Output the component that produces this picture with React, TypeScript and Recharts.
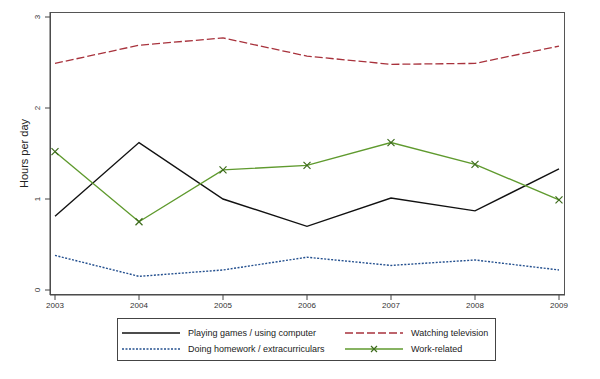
import { LineChart, Line, XAxis, YAxis } from 'recharts';

const years = [2003, 2004, 2005, 2006, 2007, 2008, 2009];
const playingGames = [0.81, 1.62, 1.0, 0.7, 1.01, 0.87, 1.33];
const watchingTv = [2.49, 2.69, 2.77, 2.57, 2.48, 2.49, 2.68];
const homework = [0.38, 0.15, 0.22, 0.36, 0.27, 0.33, 0.22];
const workRelated = [1.52, 0.75, 1.32, 1.37, 1.62, 1.38, 0.99];
const yTicks = [0, 1, 2, 3];

const data = years.map((year, i) => ({
  year,
  games: playingGames[i],
  tv: watchingTv[i],
  homework: homework[i],
  work: workRelated[i],
}));

const FONT = '"Liberation Sans", Arial, sans-serif';

const XMark = (props: any) => {
  const { cx, cy } = props;
  if (cx == null || cy == null) return null;
  const s = 3.5;
  return (
    <path
      d={`M${cx - s},${cy - s}L${cx + s},${cy + s}M${cx - s},${cy + s}L${cx + s},${cy - s}`}
      stroke="#3d6b1c"
      strokeWidth={1.2}
      fill="none"
    />
  );
};

const YTick = (props: any) => {
  const { x, y, payload } = props;
  return (
    <text
      x={x - 3}
      y={y}
      transform={`rotate(-90 ${x - 3} ${y})`}
      textAnchor="middle"
      fontSize={8}
      fill="#333"
      fontFamily={FONT}
    >
      {payload.value}
    </text>
  );
};

const legendItems = [
  { label: 'Playing games / using computer', color: '#111', dash: undefined, mark: false },
  { label: 'Watching television', color: '#a8323c', dash: '8 3', mark: false },
  { label: 'Doing homework / extracurriculars', color: '#24508f', dash: '2 1.5', mark: false },
  { label: 'Work-related', color: '#5f9a2e', dash: undefined, mark: true },
];

function LegendBox() {
  return (
    <div
      style={{
        position: 'absolute',
        left: 117,
        top: 318,
        width: 379,
        height: 43,
        border: '1px solid #444',
        boxSizing: 'border-box',
        fontFamily: FONT,
        fontSize: 9,
        color: '#222',
      }}
    >
      {legendItems.map((item, i) => {
        const col = i % 2;
        const row = Math.floor(i / 2);
        return (
          <div
            key={item.label}
            style={{
              position: 'absolute',
              left: col === 0 ? 4 : 227,
              top: row === 0 ? 8 : 24,
              display: 'flex',
              alignItems: 'center',
              height: 12,
              whiteSpace: 'nowrap',
            }}
          >
            <svg width={58} height={8} style={{ marginRight: 8 }}>
              <line x1={0} y1={4} x2={58} y2={4} stroke={item.color} strokeWidth={1.5} strokeDasharray={item.dash} />
              {item.mark && <path d="M26,1L32,7M26,7L32,1" stroke="#3d6b1c" strokeWidth={1.2} />}
            </svg>
            <span>{item.label}</span>
          </div>
        );
      })}
    </div>
  );
}

export default function App() {
  return (
    <div style={{ position: 'absolute', left: 0, top: 0, width: 600, height: 379, background: '#fff' }}>
      {/* plot frame */}
      <div
        style={{
          position: 'absolute',
          left: 50,
          top: 12,
          width: 515,
          height: 283,
          border: '1px solid #555',
          boxSizing: 'border-box',
          pointerEvents: 'none',
        }}
      />
      <LineChart
        width={600}
        height={379}
        data={data}
        margin={{ top: 12, right: 35, left: 10, bottom: 64 }}
        style={{ position: 'absolute', left: 0, top: 0 }}
      >
        <XAxis
          dataKey="year"
          type="number"
          domain={[2003, 2009]}
          ticks={years}
          padding={{ left: 5, right: 6 }}
          height={20}
          tickSize={5}
          stroke="#444"
          tick={{ fontSize: 8, fill: '#333', fontFamily: FONT }}
        />
        <YAxis
          domain={[0, 3]}
          ticks={yTicks}
          padding={{ top: 5, bottom: 5 }}
          width={40}
          tickSize={5}
          stroke="#444"
          tick={<YTick />}
          label={{
            value: 'Hours per day',
            angle: -90,
            position: 'insideLeft',
            offset: 14,
            style: { fontSize: 11, fill: '#222', fontFamily: FONT, textAnchor: 'middle' },
          }}
        />
        <Line type="linear" dataKey="tv" stroke="#a8323c" strokeWidth={1.3} strokeDasharray="8 3" dot={false} isAnimationActive={false} />
        <Line type="linear" dataKey="games" stroke="#111" strokeWidth={1.4} dot={false} isAnimationActive={false} />
        <Line type="linear" dataKey="work" stroke="#5f9a2e" strokeWidth={1.4} dot={<XMark />} isAnimationActive={false} />
        <Line type="linear" dataKey="homework" stroke="#24508f" strokeWidth={1.4} strokeDasharray="2 1.5" dot={false} isAnimationActive={false} />
      </LineChart>
      <LegendBox />
    </div>
  );
}
